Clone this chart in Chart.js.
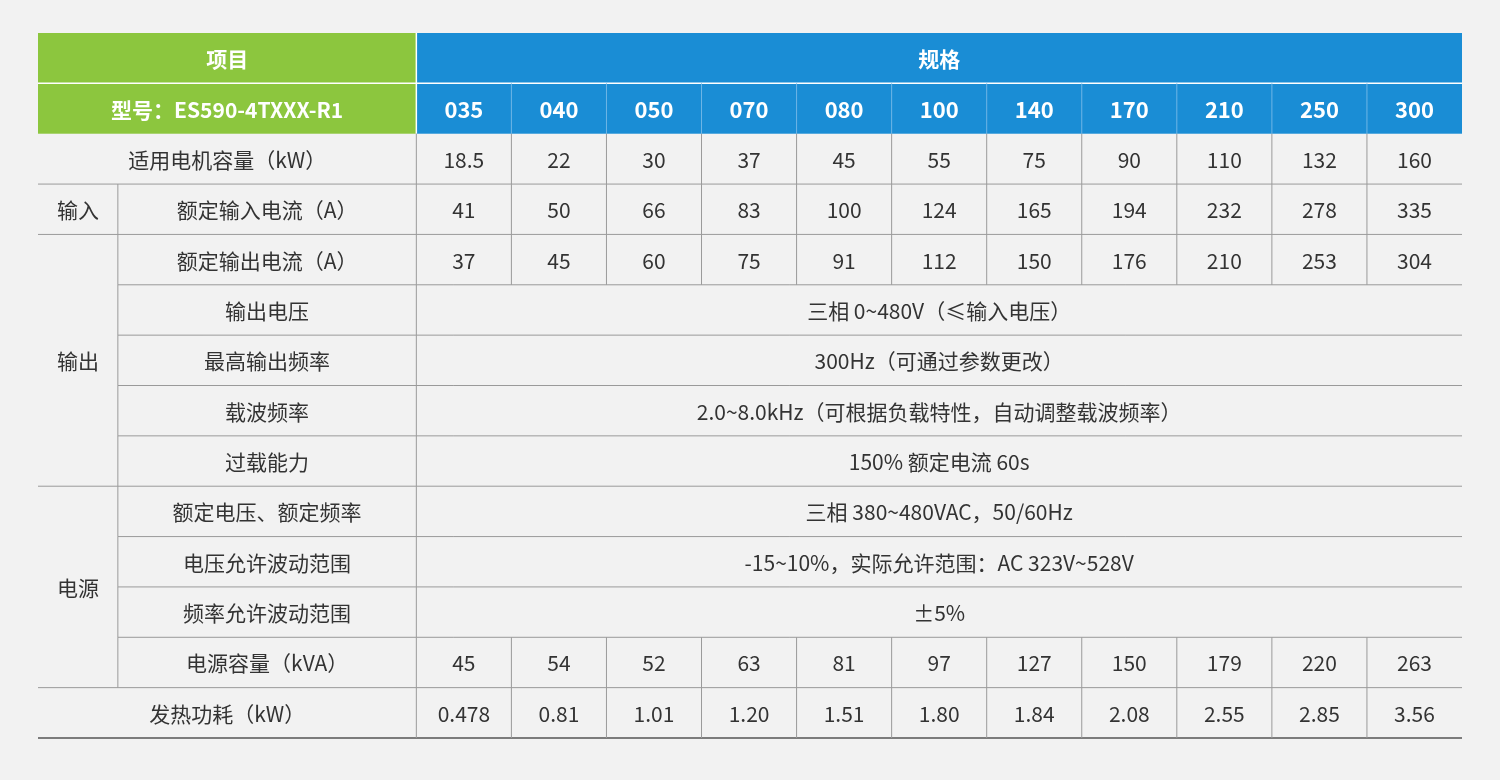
<!DOCTYPE html>
<html><head><meta charset="utf-8">
<script src="https://cdn.jsdelivr.net/npm/chart.js@4"></script>
<style>html,body{margin:0;background:#f2f2f2}#w{width:1500px;height:780px}</style>
</head><body><div id="w"><canvas id="c"></canvas></div>
<script>
const models=["035","040","050","070","080","100","140","170","210","250","300"];
const motorKW=["18.5","22","30","37","45","55","75","90","110","132","160"];
const inputA=["41","50","66","83","100","124","165","194","232","278","335"];
const outputA=["37","45","60","75","91","112","150","176","210","253","304"];
const kVA=["45","54","52","63","81","97","127","150","179","220","263"];
const heatKW=["0.478","0.81","1.01","1.20","1.51","1.80","1.84","2.08","2.55","2.85","3.56"];
const headers=["项目","规格","型号：ES590-4TXXX-R1"];
// rows: [group, label, values-or-text]
const rows=[
 [null,"适用电机容量（kW）",motorKW],
 ["输入","额定输入电流（A）",inputA],
 ["输出","额定输出电流（A）",outputA],
 ["输出","输出电压","三相 0~480V（≤输入电压）"],
 ["输出","最高输出频率","300Hz（可通过参数更改）"],
 ["输出","载波频率","2.0~8.0kHz（可根据负载特性，自动调整载波频率）"],
 ["输出","过载能力","150% 额定电流 60s"],
 ["电源","额定电压、额定频率","三相 380~480VAC，50/60Hz"],
 ["电源","电压允许波动范围","-15~10%，实际允许范围：AC 323V~528V"],
 ["电源","频率允许波动范围","±5%"],
 ["电源","电源容量（kVA）",kVA],
 [null,"发热功耗（kW）",heatKW]
];
const G=0.84, L=3.98, N=models.length, R=rows.length+2;
const FONT='"Noto Sans CJK SC","Noto Sans",sans-serif';
const tablePlugin={id:'tbl',afterDraw(ch){
 const c=ch.ctx,xs=ch.scales.x,ys=ch.scales.y;
 const X=v=>xs.getPixelForValue(v),Y=v=>ys.getPixelForValue(v);
 c.save();c.textAlign='center';c.textBaseline='middle';
 const txt=(t,x0,x1,r0,r1,col,bold,size)=>{c.fillStyle=col;c.font=(bold?'bold ':'')+(size||21)+'px '+FONT;c.fillText(t,(X(x0)+X(x1))/2,(Y(r0)+Y(r1))/2+1);};
 const line=(x0,y0,x1,y1,col,w)=>{c.strokeStyle=col;c.lineWidth=w||1;c.beginPath();c.moveTo(x0,y0);c.lineTo(x1,y1);c.stroke();};
 // header
 c.fillStyle='#8cc63e';c.fillRect(X(0),Y(0),X(L)-X(0),Y(2)-Y(0));
 c.fillStyle='#1a8dd5';c.fillRect(X(L),Y(0),X(L+N)-X(L),Y(2)-Y(0));
 line(X(0),Y(1),X(L+N),Y(1),'#ffffff',1.5);
 line(X(L),Y(0),X(L),Y(2),'#ffffff',1.5);
 for(let i=1;i<N;i++)line(X(L+i),Y(1),X(L+i),Y(2),'#6fb6e6',1);
 txt(headers[0],0,L,0,1,'#fff',true,21);
 txt(headers[1],L,L+N,0,1,'#fff',true,21);
 txt(headers[2],0,L,1,2,'#fff',true,21);
 models.forEach((m,i)=>txt(m,L+i,L+i+1,1,2,'#fff',true,22));
 // body
 const gc='#9a9a9a',tc='#333';
 rows.forEach((rw,k)=>{
  const r=k+2;
  const [g,lab,val]=rw;
  const next=rows[k+1];
  const sameGroupNext=next&&g&&next[0]===g;
  // bottom line
  line(sameGroupNext?X(G):X(0),Y(r+1),X(L+N),Y(r+1),k===rows.length-1?'#555':gc,k===rows.length-1?1.5:1);
  if(g){line(X(G),Y(r),X(G),Y(r+1),gc);txt(lab,G,L,r,r+1,tc);}
  else txt(lab,0,L,r,r+1,tc);
  line(X(L),Y(r),X(L),Y(r+1),gc);
  if(Array.isArray(val)){val.forEach((v,i)=>{txt(v,L+i,L+i+1,r,r+1,tc);if(i>0)line(X(L+i),Y(r),X(L+i),Y(r+1),gc);});}
  else txt(val,L,L+N,r,r+1,tc);
 });
 // group labels
 const groups={};rows.forEach((rw,k)=>{if(rw[0]){(groups[rw[0]]=groups[rw[0]]||[]).push(k+2);}});
 for(const g in groups){const a=groups[g];txt(g,0,G,a[0],a[a.length-1]+1,tc);}
 c.restore();
}};
new Chart(document.getElementById('c'),{
 type:'scatter',
 data:{datasets:[{data:[],showLine:false}]},
 options:{responsive:true,maintainAspectRatio:false,animation:false,
  layout:{padding:{left:38,right:38,top:33,bottom:42}},
  plugins:{legend:{display:false},tooltip:{enabled:false}},
  scales:{x:{type:'linear',min:0,max:L+N,display:false},
          y:{type:'linear',min:0,max:R,reverse:true,display:false}}},
 plugins:[tablePlugin]
});
</script></body></html>
